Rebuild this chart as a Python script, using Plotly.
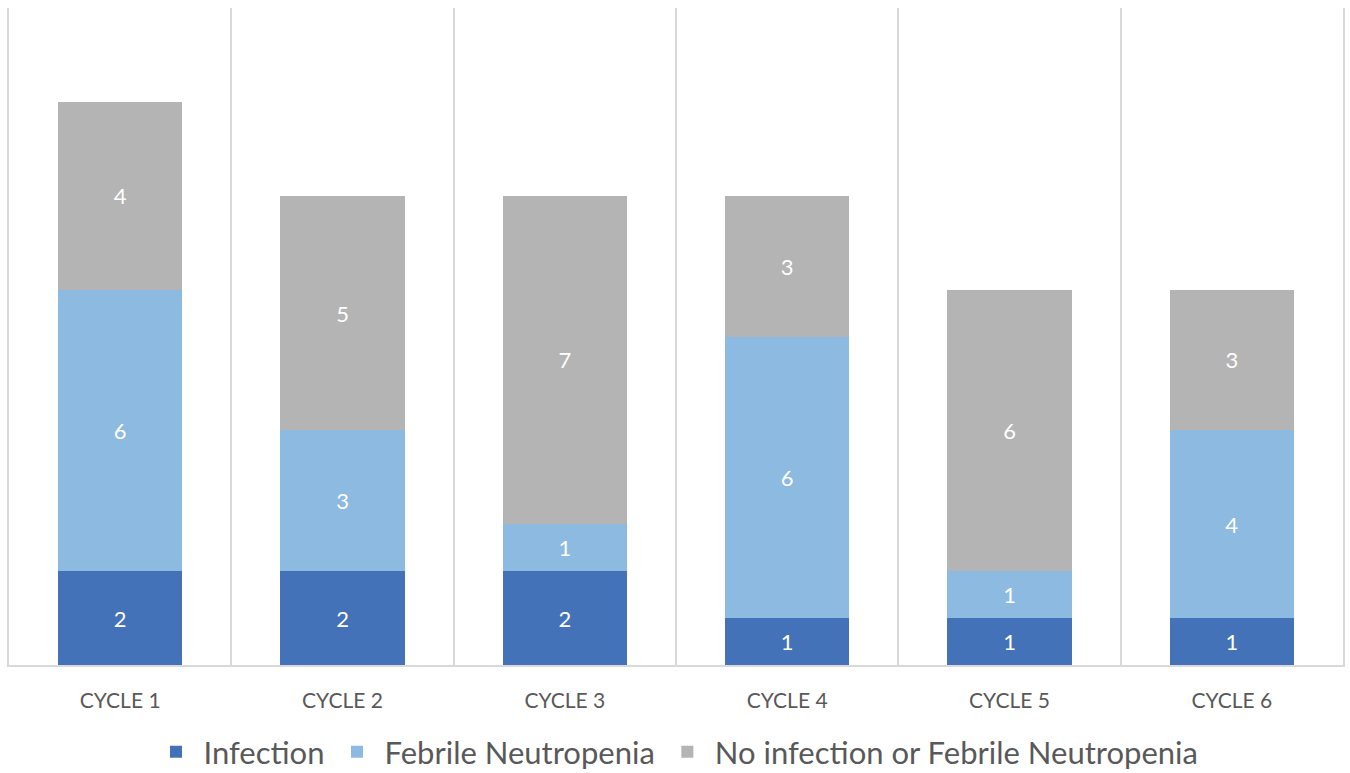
import plotly.graph_objects as go

categories = ["CYCLE 1", "CYCLE 2", "CYCLE 3", "CYCLE 4", "CYCLE 5", "CYCLE 6"]
infection = [2, 2, 2, 1, 1, 1]
febrile = [6, 3, 1, 6, 1, 4]
no_infection = [4, 5, 7, 3, 6, 3]

series = [
    ("Infection", infection, "#4472B8"),
    ("Febrile Neutropenia", febrile, "#8CBAE1"),
    ("No infection or Febrile Neutropenia", no_infection, "#B4B4B4"),
]

FONT = "Lato"
fig = go.Figure()
for name, vals, color in series:
    fig.add_trace(go.Bar(
        x=categories, y=vals, name=name,
        marker=dict(color=color, line=dict(width=0)),
        text=vals, textposition="inside", insidetextanchor="middle",
        textangle=0, constraintext="none",
        textfont=dict(color="white", size=22, family=FONT),
    ))

fig.update_layout(
    barmode="stack", bargap=0.44,
    width=1350, height=773,
    margin=dict(l=9, r=7, t=8, b=108, autoexpand=False),
    plot_bgcolor="white", paper_bgcolor="white",
    font=dict(family=FONT, color="#595959"),
    showlegend=True,
    legend=dict(orientation="h", x=0.5, xanchor="center", yref="container",
                y=0.027, yanchor="middle", itemwidth=45,
                font=dict(size=31, color="#595959", family=FONT),
                traceorder="normal"),
    xaxis=dict(type="category", tickson="boundaries", showgrid=True, gridcolor="#D9D9D9",
               gridwidth=1.5, showline=True, linecolor="#D9D9D9", linewidth=1.5,
               ticks="", ticklabelstandoff=16,
               tickfont=dict(size=21, color="#595959", family=FONT)),
    yaxis=dict(range=[0, 14], showgrid=False, showticklabels=False, zeroline=False,
               showline=True, mirror=True, linecolor="#D9D9D9", linewidth=1.5),
)

fig.write_html("out.html")
